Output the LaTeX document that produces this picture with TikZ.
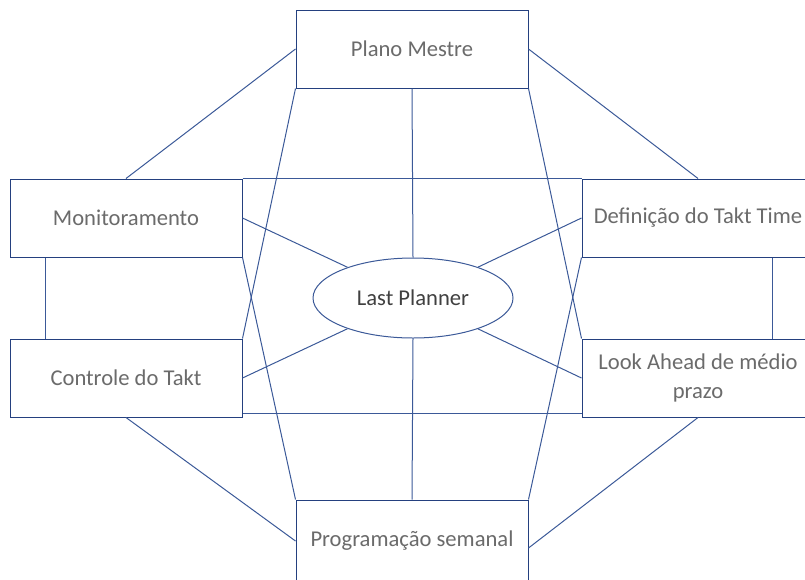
\documentclass[tikz,border=0pt]{standalone}
\usepackage{fontspec}
\setmainfont{Carlito}
\usetikzlibrary{shapes.geometric}

\definecolor{linha}{HTML}{3B5998}
\definecolor{borda}{HTML}{24407F}
\definecolor{texto}{HTML}{6B6B6B}
\definecolor{textoLP}{HTML}{404040}

\begin{document}
\begin{tikzpicture}[
       x=1pt, y=-1pt,
       line width=1pt,
       draw=linha,
       etapa/.style={
         rectangle,
         draw=borda,
         line width=1pt,
         fill=white,
         minimum width=232pt,
         minimum height=78pt,
         inner sep=2pt,
         text=texto,
         align=center,
         font=\fontsize{22.6}{29}\selectfont
       },
       centro/.style={
         ellipse,
         draw=linha,
         line width=1pt,
         fill=white,
         minimum width=200pt,
         minimum height=80pt,
         inner sep=0pt,
         text=textoLP,
         font=\fontsize{22.6}{29}\selectfont
       }
     ]

       \useasboundingbox (0,0) rectangle (805,579);

       \node (plano) at (412,49) [etapa]{Plano Mestre};
       \node (monit) at (126,218) [etapa]{Monitoramento};
       \node (defin) at (698,218) [etapa]{Definição do Takt Time};
       \node (contr) at (126,378) [etapa]{Controle do Takt};
       \node (look) at (698,378) [etapa]{Look Ahead de médio\\prazo};
       \node (prog) at (412,541) [etapa,minimum height=82pt]{Programação semanal};

       \node (lp) at (413,298) [centro]{Last Planner};

       % ligacoes de fora
       \draw[linha] (plano.west) -- (monit.north);
       \draw[linha] (plano.east) -- (defin.north);
       \draw[linha] (contr.south) -- (prog.west);
       \draw[linha] (look.south) -- ([yshift=-7pt]prog.east);

       \draw[linha] (plano.south west) -- (contr.north east);
       \draw[linha] (plano.south east) -- (look.north west);
       \draw[linha] (monit.south east) -- (prog.north west);
       \draw[linha] (defin.south west) -- (prog.north east);

       \draw[linha] (monit.north east) -- (defin.north west);
       \draw[linha] ([yshift=4pt]contr.south east) -- ([yshift=4pt]look.south west);
       \draw[linha] ([xshift=36pt]monit.south west) -- ([xshift=36pt]contr.north west);
       \draw[linha] ([xshift=191pt]defin.south west) -- ([xshift=191pt]look.north west);

       % ligacoes ao Last Planner
       \draw[linha] (plano.south) -- (lp.north);
       \draw[linha] (prog.north) -- (lp.south);
       \draw[linha] (monit.east) -- (lp);
       \draw[linha] (defin.west) -- (lp);
       \draw[linha] (contr.east) -- (lp);
       \draw[linha] (look.west) -- (lp);

\end{tikzpicture}
\end{document}
